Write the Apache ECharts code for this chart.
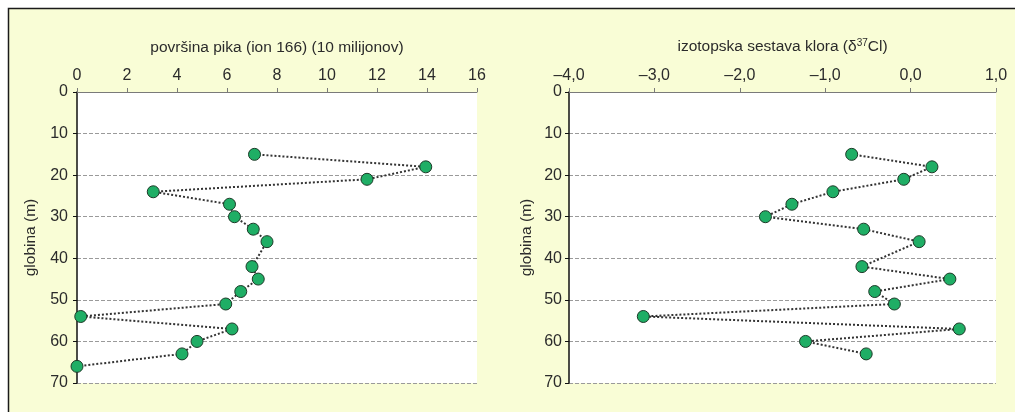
<!DOCTYPE html>
<html>
<head>
<meta charset="utf-8">
<script src="https://cdn.jsdelivr.net/npm/echarts@6/dist/echarts.min.js"></script>
<style>
  html, body { margin: 0; padding: 0; background: #ffffff; }
  #chart { width: 1015px; height: 412px; }
</style>
</head>
<body>
<div id="chart"></div>
<script>
// Depth profiles (m) for the two measured quantities
const depthsPeak = [15, 18, 21, 24, 27, 30, 33, 36, 42, 45, 48, 51, 54, 57, 60, 63, 66];
const peakArea   = [7.1, 13.95, 11.6, 3.05, 6.1, 6.3, 7.05, 7.6, 7.0, 7.25, 6.55, 5.95, 0.15, 6.2, 4.8, 4.2, 0.0];

const depthsCl = [15, 18, 21, 24, 27, 30, 33, 36, 42, 45, 48, 51, 54, 57, 60, 63];
const delta37Cl = [-0.69, 0.25, -0.08, -0.91, -1.39, -1.70, -0.55, 0.10, -0.57, 0.46, -0.42, -0.19, -3.13, 0.57, -1.23, -0.52];

const depthTicks = [0, 10, 20, 30, 40, 50, 60, 70];

const FONT = '"Liberation Sans", Arial, sans-serif';
const TEXT = '#2b2b2b';
const FS = 16;
const NAME_FS = 15.5;

const pair = (xs, ys) => xs.map((v, i) => [v, ys[i]]);

const fmtComma = v => {
  const s = Math.abs(v).toFixed(1).replace('.', ',');
  return v < 0 ? '\u2013' + s : s;
};

function xAxisBase(gridIndex) {
  return {
    type: 'value',
    gridIndex,
    position: 'top',
    nameLocation: 'middle',
    nameGap: 36,
    nameTextStyle: { fontFamily: FONT, fontSize: NAME_FS, color: TEXT },
    axisLine: { show: true, lineStyle: { color: '#7a7a7a', width: 1 } },
    axisTick: { show: true, inside: false, length: 4, lineStyle: { color: '#7a7a7a' } },
    axisLabel: { fontFamily: FONT, fontSize: FS, color: TEXT, margin: 8 },
    splitLine: { show: false }
  };
}

function yAxisBase(gridIndex, gap, labelMargin) {
  return {
    type: 'value',
    gridIndex,
    inverse: true,
    min: depthTicks[0],
    max: depthTicks[depthTicks.length - 1],
    interval: 10,
    name: 'globina (m)',
    nameLocation: 'middle',
    nameRotate: 90,
    nameGap: gap,
    nameTextStyle: { fontFamily: FONT, fontSize: NAME_FS, color: TEXT },
    axisLine: { show: true, onZero: false, lineStyle: { color: '#111', width: 1.5 } },
    axisTick: { show: true, inside: false, length: 4, lineStyle: { color: '#111' } },
    axisLabel: { fontFamily: FONT, fontSize: FS, color: TEXT, margin: labelMargin },
    splitLine: { show: true, lineStyle: { color: '#9a9a9a', type: 'dashed', width: 1 } }
  };
}

const seriesStyle = {
  type: 'line',
  symbol: 'circle',
  symbolSize: 12,
  showSymbol: true,
  itemStyle: { color: '#1fae65', borderColor: '#1d3a28', borderWidth: 1 },
  lineStyle: { color: '#333', width: 2, type: 'dotted' },
  emphasis: { disabled: true },
  z: 3
};

const chart = echarts.init(document.getElementById('chart'), null, { renderer: 'canvas' });

chart.setOption({
  backgroundColor: '#ffffff',
  animation: false,
  graphic: [{
    type: 'rect',
    shape: { x: 8.5, y: 8.5, width: 1040, height: 440 },
    style: { fill: '#f9fdd6', stroke: '#1a1a1a', lineWidth: 1.5 },
    z: -10
  }],
  grid: [
    { left: 77, top: 92, width: 400, height: 291, show: true, backgroundColor: '#ffffff', borderWidth: 0 },
    { left: 569, top: 92, width: 427, height: 291, show: true, backgroundColor: '#ffffff', borderWidth: 0 }
  ],
  xAxis: [
    Object.assign(xAxisBase(0), {
      min: 0, max: 16, interval: 2,
      name: 'površina pika (ion 166) (10 milijonov)'
    }),
    Object.assign(xAxisBase(1), {
      min: -4, max: 1, interval: 1,
      name: 'izotopska sestava klora (δ{sup|37}Cl)',
      nameTextStyle: {
        fontFamily: FONT, fontSize: NAME_FS, color: TEXT,
        rich: { sup: { fontFamily: FONT, fontSize: 10, color: TEXT, verticalAlign: 'top', padding: [0, 0, 8, 0] } }
      },
      axisLabel: { fontFamily: FONT, fontSize: FS, color: TEXT, margin: 8, formatter: fmtComma }
    })
  ],
  yAxis: [
    yAxisBase(0, 38, 9),
    yAxisBase(1, 34, 7)
  ],
  series: [
    Object.assign({}, seriesStyle, { xAxisIndex: 0, yAxisIndex: 0, data: pair(peakArea, depthsPeak) }),
    Object.assign({}, seriesStyle, { xAxisIndex: 1, yAxisIndex: 1, data: pair(delta37Cl, depthsCl) })
  ]
});
</script>
</body>
</html>
